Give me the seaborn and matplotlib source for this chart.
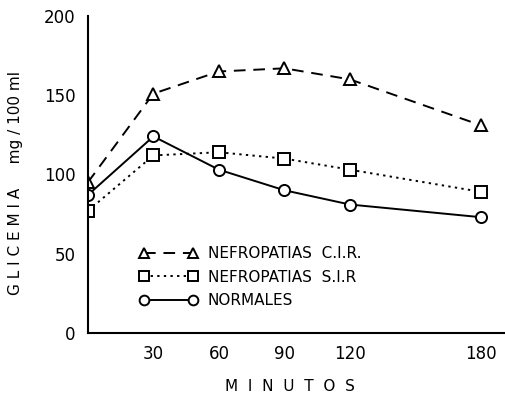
import matplotlib
matplotlib.use("Agg")
import matplotlib.pyplot as plt
import numpy as np
import pandas as pd
import seaborn as sns

# minutes after load
minutos = [0, 30, 60, 90, 120, 180]
# glicemia mg/100 ml
cir = [95, 151, 165, 167, 160, 131]
sir = [77, 112, 114, 110, 103, 89]
normales = [87, 124, 103, 90, 81, 73]

series = ["NEFROPATIAS  C.I.R.", "NEFROPATIAS  S.I.R", "NORMALES"]

df = pd.concat([
    pd.DataFrame({"min": minutos, "val": v, "grupo": s})
    for s, v in zip(series, [cir, sir, normales])
])

sns.set_style("white")
plt.rcParams["font.family"] = ["DejaVu Sans"]

fig = plt.figure(figsize=(5.05, 4.01), dpi=100)
ax = fig.add_axes([0.174, 0.170, 0.826, 0.790])

sns.lineplot(data=df, x="min", y="val", hue="grupo", style="grupo",
             palette=["black"] * 3,
             dashes={series[0]: (6, 4), series[1]: (1.2, 2.2), series[2]: ""},
             markers={series[0]: "^", series[1]: "s", series[2]: "o"},
             markersize=8, markerfacecolor="white", markeredgecolor="black",
             markeredgewidth=1.4, linewidth=1.4, ax=ax, legend=True)

h, l = ax.get_legend_handles_labels()
for hh in h:
    hh.set_markerfacecolor("white")
    hh.set_markeredgecolor("black")
    hh.set_markersize(7)
leg = ax.legend(h, l, numpoints=2, frameon=False, loc="lower left",
                bbox_to_anchor=(0.09, 0.035), fontsize=11, handlelength=3.8,
                labelspacing=0.55, handletextpad=0.7)
for t in leg.get_texts():
    t.set_color("black")

ax.set_xlim(0, 191)
ax.set_ylim(0, 200)
ax.set_xticks([30, 60, 90, 120, 180])
ax.set_yticks([0, 50, 100, 150, 200])
ax.tick_params(axis="both", direction="out", length=5, width=1.3,
               labelsize=12, color="black", labelcolor="black", pad=4)
for sp in ["top", "right"]:
    ax.spines[sp].set_visible(False)
for sp in ["left", "bottom"]:
    ax.spines[sp].set_color("black")
    ax.spines[sp].set_linewidth(1.5)

ax.set_xlabel("M  I  N  U  T  O  S", fontsize=11, color="black")
ax.set_ylabel("G L I C E M I A     mg / 100 ml", fontsize=11, color="black")
ax.xaxis.set_label_coords(0.485, -0.145)
ax.yaxis.set_label_coords(-0.155, 0.473)

fig.savefig("out.png", dpi=100)
